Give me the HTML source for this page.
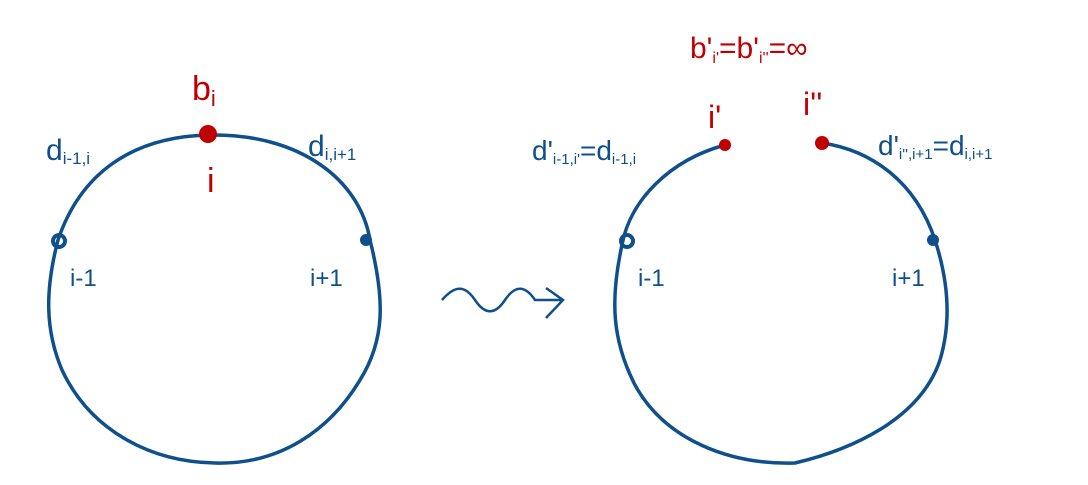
<!DOCTYPE html>
<html><head><meta charset="utf-8"><style>
html,body{margin:0;padding:0;background:#fff;width:1088px;height:485px;overflow:hidden}
text{font-family:"Liberation Sans",sans-serif}
.b{fill:#0f4f8c}.r{fill:#c00000}
</style></head><body>
<svg width="1088" height="485" viewBox="0 0 1088 485">
<g>
<path d="M208,135 C300,133 360,180 370,240 C385,300 385,340 360,380 C330,430 280,465 215,463 C150,462 90,430 62,370 C45,330 45,290 58,240 C80,175 130,137 208,135 Z" fill="none" stroke="#0f4f8c" stroke-width="3.5"/>
<circle cx="208" cy="134" r="9" fill="#c00000"/>
<circle cx="59" cy="241" r="6" fill="none" stroke="#0f4f8c" stroke-width="4"/>
<circle cx="366" cy="240" r="6" fill="#0f4f8c"/>
<text x="192" y="100" font-size="34" class="r">b<tspan font-size="22" dy="6">i</tspan></text>
<text x="207" y="192" font-size="34" class="r">i</text>
<text x="46" y="160" font-size="30" class="b">d<tspan font-size="17" dy="4">i-1,i</tspan></text>
<text x="308" y="156" font-size="30" class="b">d<tspan font-size="17" dy="4">i,i+1</tspan></text>
<text x="70" y="286" font-size="24" class="b">i-1</text>
<text x="310" y="286" font-size="24" class="b">i+1</text>
</g>
<path d="M442,300 C455,285 465,285 475,300 C485,315 495,315 505,300 C515,285 525,285 535,300 L562,300 M546,288 L563,300 L546,318" fill="none" stroke="#0f4f8c" stroke-width="2.5"/>
<g>
<path d="M725,145 C670,160 630,200 622,245 C610,300 612,340 635,385 C665,440 730,465 795,463 C850,450 920,420 940,360 C952,320 948,280 935,240 C915,180 870,150 822,143" fill="none" stroke="#0f4f8c" stroke-width="3.5"/>
<circle cx="725" cy="145" r="6" fill="#c00000"/>
<circle cx="822" cy="143" r="7" fill="#c00000"/>
<circle cx="627" cy="241" r="6" fill="none" stroke="#0f4f8c" stroke-width="4"/>
<circle cx="933" cy="240" r="6" fill="#0f4f8c"/>
<text x="690" y="58" font-size="30" class="r">b'<tspan font-size="16" dy="5">i'</tspan><tspan dy="-5">=b'</tspan><tspan font-size="16" dy="5">i''</tspan><tspan dy="-5">=∞</tspan></text>
<text x="708" y="128" font-size="32" class="r">i'</text>
<text x="803" y="115" font-size="32" class="r">i''</text>
<text x="532" y="160" font-size="28" class="b">d'<tspan font-size="15" dy="4">i-1,i'</tspan><tspan dy="-4">=d</tspan><tspan font-size="15" dy="4">i-1,i</tspan></text>
<text x="878" y="155" font-size="28" class="b">d'<tspan font-size="15" dy="4">i'',i+1</tspan><tspan dy="-4">=d</tspan><tspan font-size="15" dy="4">i,i+1</tspan></text>
<text x="638" y="286" font-size="24" class="b">i-1</text>
<text x="892" y="286" font-size="24" class="b">i+1</text>
</g>
</svg>
</body></html>
